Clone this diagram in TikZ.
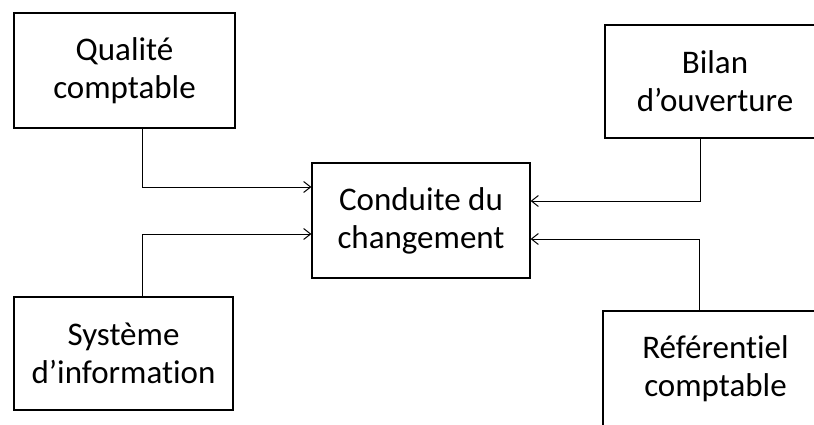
\documentclass[tikz,border=0pt]{standalone}
\usepackage{fontspec}
\setmainfont[Ligatures=CommonOff]{Carlito}
\usetikzlibrary{arrows.meta}
\begin{document}
\begin{tikzpicture}[x=1pt,y=-1pt,
  box/.style={draw, line width=1.2pt, align=center, inner sep=0pt,
    font=\fontsize{33}{38}\selectfont},
  link/.style={line width=1pt, -{Straight Barb[length=7pt,width=11pt,line width=1pt]}}]
  \useasboundingbox (0,0) rectangle (814,424);
  % outer boxes
  \node[box, minimum width=221pt, minimum height=115pt] (q) at (124.5,70.5) {Qualité\\comptable};
  \node[box, minimum width=219pt, minimum height=113pt] (s) at (123.5,353.5) {Système\\d’information};
  \node[box, minimum width=220pt, minimum height=113pt] (b) at (715,81.5) {Bilan\\d’ouverture};
  \node[box, minimum width=225pt, minimum height=115pt] (r) at (715.5,368.5) {Référentiel\\comptable};
  % central box
  \node[box, minimum width=218pt, minimum height=115pt] (c) at (421,220.5) {Conduite du\\changement};
  % elbow connectors into the central box
  \draw[link] ([xshift=18pt]q.south) |- ([yshift=33.5pt]c.west);
  \draw[link] ([xshift=18.5pt]s.north) |- ([yshift=-13.5pt]c.west);
  \draw[link] ([xshift=-15pt]b.south) |- ([yshift=19.5pt]c.east);
  \draw[link] ([xshift=-16.5pt]r.north) |- ([yshift=-18.5pt]c.east);
\end{tikzpicture}
\end{document}
